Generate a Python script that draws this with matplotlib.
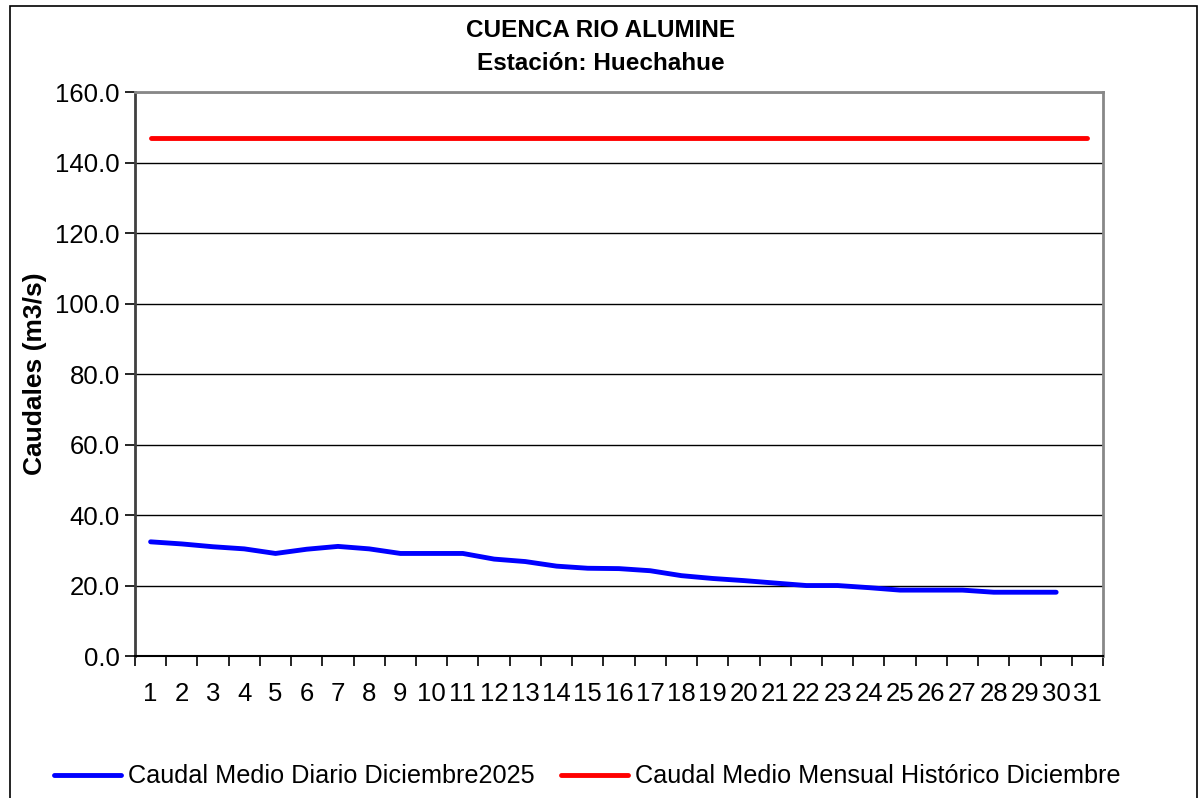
import matplotlib.pyplot as plt
from matplotlib.patches import Rectangle
import numpy as np

plt.rcParams['font.family'] = ['Liberation Sans', 'DejaVu Sans']

# daily flows, December 2025 (day 31 missing)
days = list(range(1, 32))
caudal_diario = [32.4, 31.8, 31.0, 30.4, 29.1, 30.3, 31.1, 30.4, 29.1, 29.1,
                 29.1, 27.5, 26.8, 25.5, 24.9, 24.8, 24.2, 22.8, 22.0, 21.4,
                 20.7, 20.0, 20.0, 19.4, 18.7, 18.7, 18.7, 18.1, 18.1, 18.1]
caudal_historico = [147.0] * 31
yticks = np.arange(0, 161, 20)

fig = plt.figure(figsize=(12.01, 7.98), dpi=100)
ax = fig.add_axes([0.1124, 0.1779, 0.806, 0.7068])

ax.plot(days[:len(caudal_diario)], caudal_diario, color='#0000ff', lw=3.5,
        solid_capstyle='round', label='Caudal Medio Diario Diciembre2025')
ax.plot(days, caudal_historico, color='#ff0000', lw=3.5,
        solid_capstyle='round', label='Caudal Medio Mensual Histórico Diciembre')

ax.set_xlim(0.5, 31.5)
ax.set_ylim(0, 160)
ax.set_yticks(yticks)
ax.set_yticklabels([f'{v:.1f}' for v in yticks], fontsize=18.5)
ax.set_xticks(days)
ax.set_xticklabels([str(d) for d in days], fontsize=18.5)
ax.set_xticks(np.arange(0.5, 32, 1), minor=True)
ax.tick_params(axis='x', which='major', length=0, pad=19)
ax.tick_params(axis='x', which='minor', length=7, width=1.2, direction='out', color='black')
ax.tick_params(axis='y', length=7, width=1.2, direction='out', pad=4)
ax.yaxis.grid(True, color='black', lw=1)
ax.set_axisbelow(True)

ax.spines['left'].set_color('#404040')
ax.spines['left'].set_linewidth(2)
ax.spines['bottom'].set_color('black')
ax.spines['bottom'].set_linewidth(1.5)
for s in ['top', 'right']:
    ax.spines[s].set_color('#888888')
    ax.spines[s].set_linewidth(2)

ax.set_ylabel('Caudales (m3/s)', fontsize=19, fontweight='bold', labelpad=6)
fig.text(0.5, 0.962, 'CUENCA RIO ALUMINE', ha='center', va='center',
         fontsize=17.5, fontweight='bold')
fig.text(0.5, 0.921, 'Estación: Huechahue', ha='center', va='center',
         fontsize=17.5, fontweight='bold')

fig.legend(loc='center', bbox_to_anchor=(0.489, 0.027), ncol=2, frameon=False,
           fontsize=18.2, handlelength=2.65, handletextpad=0.27, columnspacing=1.05)

fig.patches.append(Rectangle((0.008, -0.01), 0.989, 1.003, transform=fig.transFigure,
                             fill=False, edgecolor='black', lw=1.2))

plt.savefig('out.png', dpi=100)
